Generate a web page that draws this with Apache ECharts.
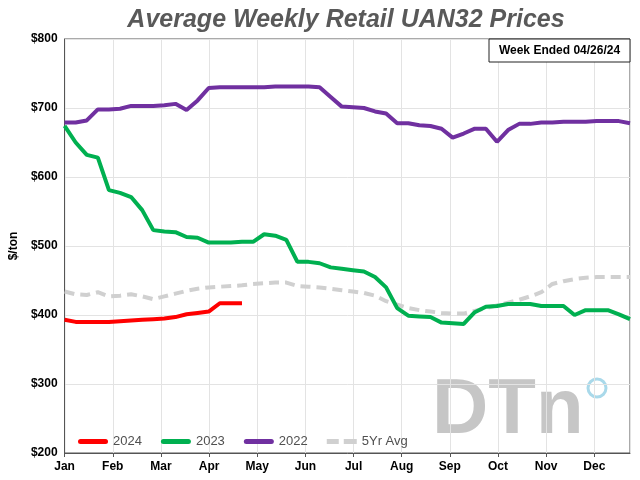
<!DOCTYPE html>
<html>
<head>
<meta charset="utf-8">
<script src="https://cdn.jsdelivr.net/npm/echarts@6/dist/echarts.min.js"></script>
<style>html,body{margin:0;padding:0;background:#fff;}#chart{width:640px;height:480px;}</style>
</head>
<body>
<div id="chart"></div>
<script>
const monthLabels = ['Jan','Feb','Mar','Apr','May','Jun','Jul','Aug','Sep','Oct','Nov','Dec'];
const yTicks = ['$200','$300','$400','$500','$600','$700','$800'];
const s2024 = [393,390,390,390,390,391,392,393,394,395,397,401,403,405,417,417,417];
const s2023 = [674,650,632,628,581,577,571,552,523,521,520,513,512,505,505,505,506,506,517,515,509,477,477,475,469,467,465,463,455,440,410,399,398,397,389,388,387,404,412,413,416,416,416,413,413,413,400,407,407,407,401,394];
const s2022 = [679,679,682,698,698,699,703,703,703,704,706,697,711,729,730,730,730,730,730,731,731,731,731,730,716,702,701,700,695,692,678,678,675,674,670,657,663,670,670,651,668,677,677,679,679,680,680,680,681,681,681,678];
const s5yr = [434,430,429,433,427,428,430,427,423,427,431,435,438,440,441,442,443,445,446,447,447,442,441,440,438,436,434,432,428,420,415,410,407,405,403,402,402,406,410,414,418,422,427,433,445,449,452,454,455,455,455,455];

const monthStep = 4.344; // weeks per month gridline
const toPts = arr => arr.map((v, i) => [i, v]);

const solidIcon = 'path://M2.5,0h25a2.5,2.5 0 0 1 0,5h-25a2.5,2.5 0 0 1 0,-5z';
const dashIcon = 'path://M0,0h12v5h-12z M17,0h13v5h-13z';

const chart = echarts.init(document.getElementById('chart'));
const font = 'Liberation Sans, Arial, sans-serif';
chart.setOption({
  animation: false,
  backgroundColor: '#fff',
  title: {
    text: 'Average Weekly Retail UAN32 Prices',
    left: 341, top: 3, textAlign: 'center',
    textStyle: {fontFamily: font, fontSize: 25, fontWeight: 'bold', fontStyle: 'italic', color: '#595959'}
  },
  grid: {left: 60, right: 10, top: 39, bottom: 27, show: true, borderColor: '#555', borderWidth: 1},
  legend: {
    left: 78, top: 435, padding: 0, itemWidth: 30, itemHeight: 5, itemGap: 19,
    textStyle: {fontFamily: font, fontSize: 13, color: '#505050'},
    data: [
      {name: '2024', icon: solidIcon},
      {name: '2023', icon: solidIcon},
      {name: '2022', icon: solidIcon},
      {name: '5Yr Avg', icon: dashIcon}
    ]
  },
  xAxis: {
    type: 'value', min: 0, max: 51, interval: monthStep,
    axisLine: {show: true, lineStyle: {color: '#555'}},
    axisTick: {show: true, length: 4, lineStyle: {color: '#555'}},
    splitLine: {show: true, lineStyle: {color: '#e3e3e3', width: 1}},
    axisLabel: {
      fontFamily: font, fontSize: 12, fontWeight: 'bold', color: '#000', margin: 8,
      showMaxLabel: false,
      formatter: v => monthLabels[Math.round(v / monthStep)] || ''
    }
  },
  yAxis: {
    type: 'value', min: 200, max: 800, interval: 100,
    name: '$/ton', nameLocation: 'middle', nameGap: 43, nameRotate: 90,
    nameTextStyle: {fontFamily: font, fontSize: 12, fontWeight: 'bold', color: '#000'},
    axisLine: {show: true, lineStyle: {color: '#555'}},
    axisTick: {show: false},
    splitLine: {show: true, lineStyle: {color: '#e3e3e3', width: 1}},
    axisLabel: {
      fontFamily: font, fontSize: 12, fontWeight: 'bold', color: '#000', margin: 7,
      formatter: v => yTicks[Math.round((v - 200) / 100)]
    }
  },
  graphic: [
    {type: 'text', left: 432, top: 372, z: 0, silent: true,
     style: {text: 'DTn', font: 'bold 78px Liberation Sans, Arial, sans-serif', fill: '#c6c6c6'}},
    {type: 'circle', shape: {cx: 597, cy: 388, r: 9}, z: 0, silent: true,
     style: {fill: 'none', stroke: '#a9d9ea', lineWidth: 3}},
    {type: 'rect', shape: {x: 489, y: 39, width: 141, height: 23}, z: 10,
     style: {fill: '#fff', stroke: '#222', lineWidth: 1}},
    {type: 'text', x: 559.5, y: 50.5, z: 11,
     style: {text: 'Week Ended 04/26/24', font: 'bold 12px Liberation Sans, Arial, sans-serif', fill: '#000', textAlign: 'center', textVerticalAlign: 'middle'}}
  ],
  series: [
    {name: '2024', type: 'line', data: toPts(s2024), symbol: 'none', z: 5,
     lineStyle: {color: '#ff0000', width: 4}, itemStyle: {color: '#ff0000'}},
    {name: '2023', type: 'line', data: toPts(s2023), symbol: 'none', z: 4,
     lineStyle: {color: '#00b050', width: 4}, itemStyle: {color: '#00b050'}},
    {name: '2022', type: 'line', data: toPts(s2022), symbol: 'none', z: 4,
     lineStyle: {color: '#7030a0', width: 4}, itemStyle: {color: '#7030a0'}},
    {name: '5Yr Avg', type: 'line', data: toPts(s5yr), symbol: 'none', z: 3,
     lineStyle: {color: '#d0d0d0', width: 4, type: [10, 6]}, itemStyle: {color: '#d0d0d0'}}
  ]
});
</script>
</body>
</html>
